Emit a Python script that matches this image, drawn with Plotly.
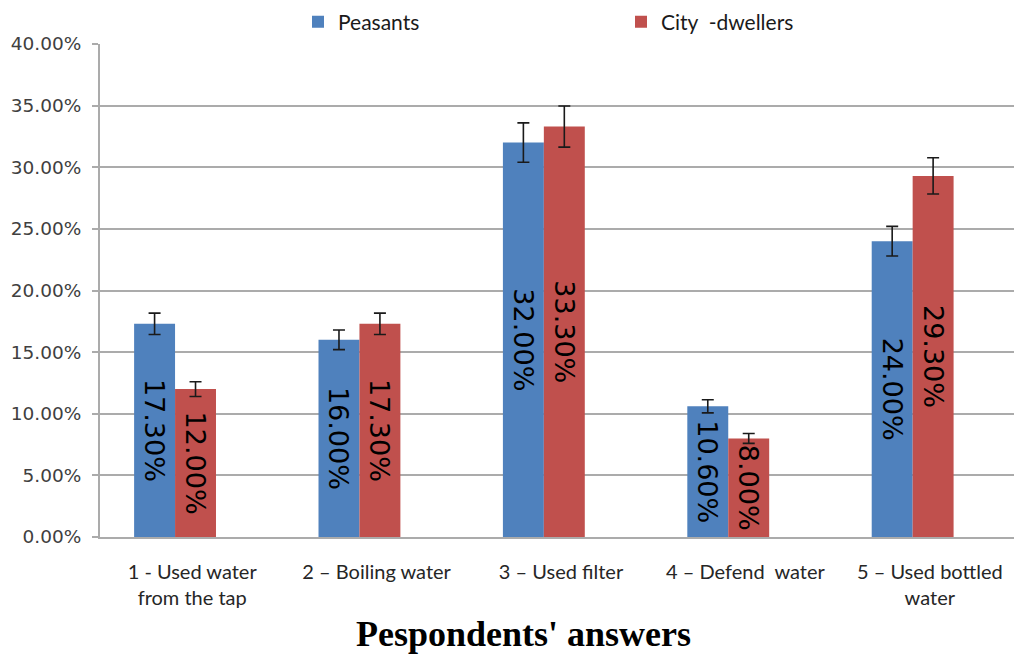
import plotly.graph_objects as go

categories = ["1 - Used water<br>from the tap", "2 – Boiling water", "3 – Used filter",
              "4 – Defend  water", "5 – Used bottled<br>water"]
peasants = [0.173, 0.160, 0.320, 0.106, 0.240]
city = [0.120, 0.173, 0.333, 0.080, 0.293]
series_names = ["Peasants", "City  -dwellers"]
error_percent = 5

blue = "#4F81BD"
red = "#C0504D"
grid = "#ABABAB"

W, H = 1014, 647  # page body has an 8px margin

fig = go.Figure()
for name, vals, col, off in [(series_names[0], peasants, blue, -0.315),
                             (series_names[1], city, red, -0.093)]:
    fig.add_trace(go.Bar(
        x=categories, y=vals, name=name, marker=dict(color=col, line=dict(width=0)),
        offset=off, width=0.222,
        error_y=dict(type="percent", value=error_percent, color="#1a1a1a", thickness=1.6, width=6),
        texttemplate="%{y:.2%}", textposition="inside", insidetextanchor="middle",
        textangle=90, constraintext="none",
        textfont=dict(family="DejaVu Sans", size=27, color="black"),
    ))

fig.update_layout(
    width=W, height=H, barmode="overlay",
    plot_bgcolor="white", paper_bgcolor="white",
    margin=dict(l=92, r=0, t=36, b=118, autoexpand=False),
    legend=dict(orientation="h", xref="container", yref="container",
                x=290 / W, xanchor="left", y=1 - 14 / H, yanchor="middle",
                entrywidth=278, entrywidthmode="pixels",
                font=dict(family="Lato", size=21, color="#1a1a1a"), itemwidth=30),
    showlegend=True,
)
fig.update_yaxes(range=[0, 0.40], dtick=0.05, tickformat=".2%", automargin=False,
                 showgrid=True, gridcolor=grid, gridwidth=2,
                 showline=True, linecolor=grid, linewidth=2,
                 ticks="outside", ticklen=6, tickcolor=grid, tickwidth=2,
                 ticklabelstandoff=7, zeroline=False,
                 tickfont=dict(family="DejaVu Sans", size=18.5, color="#404040"))
fig.update_xaxes(showgrid=False, showline=True, linecolor=grid, linewidth=2,
                 ticks="", ticklabelstandoff=16, automargin=False,
                 tickfont=dict(family="Lato", size=20, color="#262626"))
fig.add_annotation(text="<b>Pespondents' answers</b>", xref="paper", yref="paper",
                   x=(523 - 100) / 922, y=-(634 - 537) / 493, yanchor="middle", showarrow=False,
                   font=dict(family="Liberation Serif", size=36, color="black"))
fig.write_html("out.html")
